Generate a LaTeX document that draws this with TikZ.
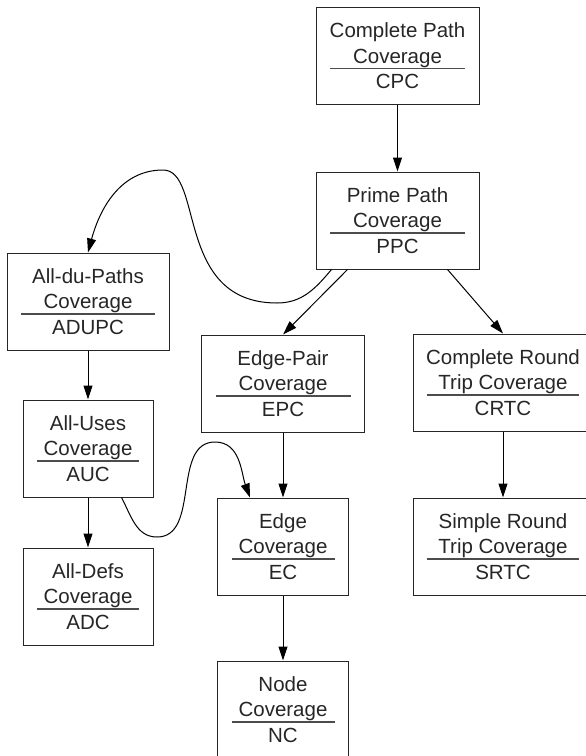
\documentclass[tikz,border=0pt]{standalone}
\usepackage{fontspec}
\setmainfont{Liberation Sans}
\usetikzlibrary{
	arrows.meta,    % Per le punte a triangolo (Triangle)
	calc
}

\begin{document}
\begin{tikzpicture}[x=1pt, y=1pt, >={Triangle[length=14pt, width=9pt]},
		covbox/.style={draw=black!85, line width=1pt, text=black!85,
			minimum width=#1, minimum height=97pt, inner sep=0pt, align=center,
			font=\fontsize{20.5}{25.5}\selectfont,
			path picture={\draw[black!70, line width=1.6pt]
				([xshift=14pt, yshift=-12.5pt]path picture bounding box.west) --
				([xshift=-14pt, yshift=-12.5pt]path picture bounding box.east);}},
		link/.style={->, draw=black, line width=1pt}]
				% --- Cornice ---
				\useasboundingbox (0,0) rectangle (586,-756);
				\clip (0,0) rectangle (586,-756);
				
				% --- Criteri ---
				\node[covbox=163pt] (cpc) at (397.5,-56) {Complete Path\\Coverage\\CPC};
				\node[covbox=163pt] (ppc) at (397.5,-220.5) {Prime Path\\Coverage\\PPC};
				\node[covbox=162pt] (adupc) at (88,-301.5) {All-du-Paths\\Coverage\\ADUPC};
				\node[covbox=163pt] (epc) at (283,-383.5) {Edge-Pair\\Coverage\\EPC};
				\node[covbox=180pt] (crtc) at (503,-382.5) {Complete Round\\Trip Coverage\\CRTC};
				\node[covbox=130pt] (auc) at (88,-448.5) {All-Uses\\Coverage\\AUC};
				\node[covbox=131pt] (ec) at (283,-546.5) {Edge\\Coverage\\EC};
				\node[covbox=180pt] (srtc) at (503,-546.5) {Simple Round\\Trip Coverage\\SRTC};
				\node[covbox=130pt] (adc) at (88,-596.5) {All-Defs\\Coverage\\ADC};
				\node[covbox=131pt] (nc) at (283,-709.5) {Node\\Coverage\\NC};
				
				% --- Frecce dritte ---
				\draw[link] (cpc) -- (ppc);
				\draw[link] ([xshift=32pt]ppc.south west) -- (epc.north);
				\draw[link] ([xshift=-32pt]ppc.south east) -- (crtc.north);
				\draw[link] (adupc) -- (auc);
				\draw[link] (auc) -- (adc);
				\draw[link] (epc) -- (ec);
				\draw[link] (ec) -- (nc);
				\draw[link] (crtc) -- (srtc);
				
				% --- Frecce curve ---
				\coordinate (dip1) at (277,-303);
				\coordinate (top1) at (163,-170);
				\draw[link] ([xshift=16pt]ppc.south west) to[out=230, in=0] (dip1)
					to[out=180, in=0, out looseness=1.5, in looseness=0.6] (top1)
					to[out=180, in=75] (adupc.north);
				\coordinate (dip2) at (157,-537);
				\coordinate (top2) at (215,-442);
				\draw[link] ([xshift=-32pt]auc.south east) to[out=-62, in=180] (dip2)
					to[out=0, in=180] (top2)
					to[out=0, in=110] ([xshift=-33pt]ec.north);
\end{tikzpicture}
\end{document}
